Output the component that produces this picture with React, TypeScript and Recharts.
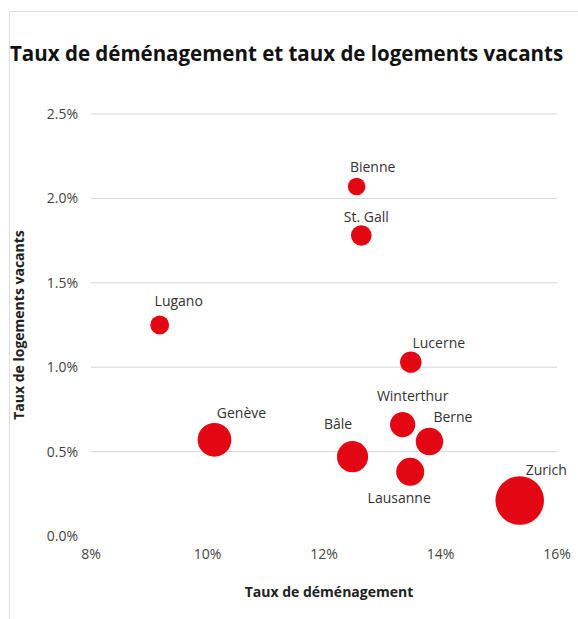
import React from 'react';
import { ScatterChart, Scatter, XAxis, YAxis, ZAxis, CartesianGrid } from 'recharts';

// values
const cities = ['Bienne', 'St. Gall', 'Lugano', 'Lucerne', 'Genève', 'Winterthur', 'Berne', 'Bâle', 'Lausanne', 'Zurich'];
const moveRate = [12.56, 12.64, 9.18, 13.49, 10.12, 13.35, 13.81, 12.49, 13.48, 15.36];
const vacancyRate = [2.07, 1.78, 1.25, 1.03, 0.57, 0.66, 0.56, 0.47, 0.38, 0.21];
// bubble size (population, thousands)
const population = [55, 76, 63, 82, 203, 114, 134, 173, 140, 421];

const xTicks = [8, 10, 12, 14, 16];
const yTicks = [0, 0.5, 1, 1.5, 2, 2.5];
const gridValues = [0.5, 1, 1.5, 2, 2.5];

const data = cities.map((city, i) => ({
  city,
  x: moveRate[i],
  y: vacancyRate[i],
  z: population[i],
}));

// label placement relative to bubble centre: [dx, dy of baseline]
const labelOffset: Record<string, [number, number]> = {
  'Bienne': [16, -15],
  'St. Gall': [5, -14],
  'Lugano': [19, -19],
  'Lucerne': [28, -14.5],
  'Genève': [27, -22],
  'Winterthur': [10, -23.5],
  'Berne': [23.5, -19],
  'Bâle': [-14.5, -28],
  'Lausanne': [-11, 31.5],
  'Zurich': [26.5, -26],
};

const RED = '#e30613';
const FONT = '"Open Sans", sans-serif';

const Bubble = (props: any) => {
  const { cx, cy, size, payload } = props;
  const r = Math.sqrt(Math.max(size || 0, 0) / Math.PI);
  const [dx, dy] = labelOffset[payload.city] || [0, -r - 6];
  return (
    <g>
      <circle cx={cx} cy={cy} r={r} fill={RED} />
      <text x={cx + dx} y={cy + dy} textAnchor="middle" fontSize={14} fill="#333">
        {payload.city}
      </text>
    </g>
  );
};

export default function App() {
  return (
    <div style={{ position: 'absolute', left: 0, top: 0, width: 578, height: 619, overflow: 'hidden', background: '#fff', fontFamily: FONT }}>
      <div style={{ position: 'absolute', left: 9, top: 11, width: 700, height: 700, borderTop: '1px solid #dedede', borderLeft: '1px solid #dedede' }} />
      <svg width={578} height={100} style={{ position: 'absolute', left: 0, top: 0 }}>
        <text x={10} y={61} fontSize={20.5} fontWeight={700} fill="#111" fontFamily={FONT}>
          Taux de déménagement et taux de logements vacants
        </text>
      </svg>
      <div style={{ position: 'absolute', left: 0, top: 0 }}>
        <ScatterChart width={578} height={619} margin={{ top: 114, right: 21, bottom: 0, left: 0 }}>
          <CartesianGrid vertical={false} stroke="#d6d6d6" horizontalValues={gridValues} syncWithTicks />
          <XAxis
            type="number"
            dataKey="x"
            domain={[8, 16]}
            ticks={xTicks}
            interval={0}
            height={83}
            axisLine={false}
            tickLine={false}
            tickMargin={7}
            tick={{ fill: '#444', fontSize: 14 }}
            tickFormatter={(v: number) => `${v}%`}
            label={({ viewBox }: any) => (
              <text x={viewBox.x + viewBox.width / 2 + 5} y={597} textAnchor="middle" fontSize={14} fontWeight={700} fill="#222">
                Taux de déménagement
              </text>
            )}
          />
          <YAxis
            type="number"
            dataKey="y"
            domain={[0, 2.5]}
            ticks={yTicks}
            interval={0}
            width={91}
            axisLine={false}
            tickLine={false}
            tickMargin={7}
            tick={{ fill: '#444', fontSize: 14 }}
            tickFormatter={(v: number) => `${v.toFixed(1)}%`}
            label={({ viewBox }: any) => {
              const cy = viewBox.y + viewBox.height / 2;
              return (
                <text x={24} y={cy} transform={`rotate(-90, 24, ${cy})`} textAnchor="middle" fontSize={14} fontWeight={700} fill="#222">
                  Taux de logements vacants
                </text>
              );
            }}
          />
          <ZAxis type="number" dataKey="z" domain={[0, 421]} range={[0, 1855]} />
          <Scatter data={data} fill={RED} shape={Bubble} isAnimationActive={false} />
        </ScatterChart>
      </div>
    </div>
  );
}
